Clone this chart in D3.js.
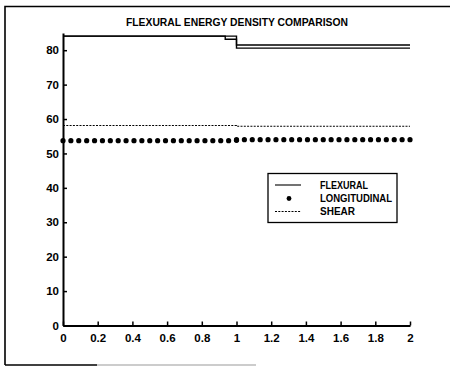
<!DOCTYPE html>
<html>
<head>
<meta charset="utf-8">
<script src="https://cdn.jsdelivr.net/npm/d3@7"></script>
<style>
  html, body { margin: 0; padding: 0; background: #fff; }
  svg { display: block; }
  text { font-family: "Liberation Sans", Arial, Helvetica, sans-serif; font-weight: bold; fill: #000; }
</style>
</head>
<body>
<svg id="chart" width="450" height="367"></svg>
<script>
// Node positions along the beam (22 elements per unit length)
const xNodesLeft = [0, 0.0455, 0.0909, 0.1364, 0.1818, 0.2273, 0.2727, 0.3182, 0.3636, 0.4091, 0.4545,
  0.5, 0.5455, 0.5909, 0.6364, 0.6818, 0.7273, 0.7727, 0.8182, 0.8636, 0.9091, 0.9545, 1.0];
const xNodesRight = [1.0, 1.0455, 1.0909, 1.1364, 1.1818, 1.2273, 1.2727, 1.3182, 1.3636, 1.4091, 1.4545,
  1.5, 1.5455, 1.5909, 1.6364, 1.6818, 1.7273, 1.7727, 1.8182, 1.8636, 1.9091, 1.9545, 2.0];

// Longitudinal energy density at each node
const longitudinalLeft = [53.7, 53.7, 53.7, 53.7, 53.7, 53.7, 53.7, 53.7, 53.7, 53.7, 53.7, 53.7,
  53.7, 53.7, 53.7, 53.7, 53.7, 53.7, 53.7, 53.7, 53.7, 53.7, 53.8];
const longitudinalRight = [54.0, 54.0, 54.0, 54.0, 54.0, 54.0, 54.0, 54.0, 54.0, 54.0, 54.0, 54.0,
  54.0, 54.0, 54.0, 54.0, 54.0, 54.0, 54.0, 54.0, 54.0, 54.0, 54.0];

// Flexural energy density (two piecewise-constant curves)
const flexuralAX = [0, 1, 1, 2];
const flexuralAY = [84.1, 84.1, 81.5, 81.5];
const flexuralBX = [0, 0.935, 0.935, 1, 1, 2];
const flexuralBY = [84.1, 84.1, 83.2, 83.2, 80.6, 80.6];

// Shear energy density
const shearX = [0, 1, 1, 2];
const shearY = [58.1, 58.1, 57.9, 57.9];

const xTicks = [0, 0.2, 0.4, 0.6, 0.8, 1, 1.2, 1.4, 1.6, 1.8, 2];
const yTicks = [0, 10, 20, 30, 40, 50, 60, 70, 80];
const xTickLabels = ["0", "0.2", "0.4", "0.6", "0.8", "1", "1.2", "1.4", "1.6", "1.8", "2"];

const titleText = "FLEXURAL ENERGY DENSITY COMPARISON";
const legendLabels = ["FLEXURAL", "LONGITUDINAL", "SHEAR"];

const svg = d3.select("#chart");

// Outer frame
const frame = svg.append("g").attr("fill", "none");
frame.append("path").attr("d", "M5,365 L5,6.5 L450,6.5").attr("stroke", "#000").attr("stroke-width", 1.6);
frame.append("line").attr("x1", 5).attr("x2", 97).attr("y1", 365).attr("y2", 365)
  .attr("stroke", "#000").attr("stroke-width", 1.6);
frame.append("line").attr("x1", 97).attr("x2", 256).attr("y1", 365).attr("y2", 365)
  .attr("stroke", "#999").attr("stroke-width", 1.2);

const x = d3.scaleLinear().domain([0, 2]).range([63, 410]);
const y = d3.scaleLinear().domain([0, 85]).range([325.5, 33]);

// Axes with inward ticks
const xAxis = d3.axisBottom(x).tickValues(xTicks).tickSizeInner(-4).tickSizeOuter(0)
  .tickFormat((d, i) => xTickLabels[i]).tickPadding(6);
const yAxis = d3.axisLeft(y).tickValues(yTicks).tickSizeInner(-4).tickSizeOuter(0)
  .tickFormat(d3.format("d")).tickPadding(4);

const gx = svg.append("g").attr("transform", `translate(0,${y(0)})`).call(xAxis);
const gy = svg.append("g").attr("transform", `translate(${x(0)},0)`).call(yAxis);
[gx, gy].forEach(g => {
  g.select(".domain").attr("stroke", "#000").attr("stroke-width", 2);
  g.selectAll(".tick line").attr("stroke", "#000").attr("stroke-width", 1.5);
  g.selectAll(".tick text").style("font-size", "11.5px").style("font-weight", "bold")
    .style("font-family", "'Liberation Sans', Arial, sans-serif").attr("fill", "#000");
});
gx.selectAll(".tick text").attr("dy", "0.9em");

// Title
svg.append("text").attr("x", 237).attr("y", 25.5).attr("text-anchor", "middle")
  .style("font-size", "10px").attr("textLength", 222).attr("lengthAdjust", "spacingAndGlyphs")
  .text(titleText);

const line = d3.line().x(d => x(d[0])).y(d => y(d[1]));

// Flexural curves
[[flexuralAX, flexuralAY], [flexuralBX, flexuralBY]].forEach(([xs, ys]) => {
  svg.append("path").datum(xs.map((v, i) => [v, ys[i]]))
    .attr("d", line).attr("fill", "none").attr("stroke", "#000").attr("stroke-width", 1.4);
});

// Shear curve
svg.append("path").datum(shearX.map((v, i) => [v, shearY[i]]))
  .attr("d", line).attr("fill", "none").attr("stroke", "#000").attr("stroke-width", 1.1)
  .attr("stroke-dasharray", "2,1.3");

// Longitudinal points
const pts = xNodesLeft.map((v, i) => [v, longitudinalLeft[i]])
  .concat(xNodesRight.map((v, i) => [v, longitudinalRight[i]]));
svg.append("g").selectAll("circle").data(pts).join("circle")
  .attr("cx", d => x(d[0])).attr("cy", d => y(d[1])).attr("r", 2.6).attr("fill", "#000");

// Legend
const lg = svg.append("g");
lg.append("rect").attr("x", 268).attr("y", 173.5).attr("width", 129).attr("height", 49)
  .attr("fill", "#fff").attr("stroke", "#000").attr("stroke-width", 1.3);
const rowY = [185, 198.5, 211.5];
const textW = [48, 72, 35];
lg.append("line").attr("x1", 275).attr("x2", 301).attr("y1", rowY[0]).attr("y2", rowY[0])
  .attr("stroke", "#000").attr("stroke-width", 1.1);
lg.append("circle").attr("cx", 289).attr("cy", rowY[1]).attr("r", 2.4).attr("fill", "#000");
lg.append("line").attr("x1", 275).attr("x2", 301).attr("y1", rowY[2]).attr("y2", rowY[2])
  .attr("stroke", "#000").attr("stroke-width", 1.1).attr("stroke-dasharray", "2,1.3");
legendLabels.forEach((t, i) => {
  lg.append("text").attr("x", 320).attr("y", rowY[i] + 3.8)
    .style("font-size", "10.5px").attr("textLength", textW[i]).attr("lengthAdjust", "spacingAndGlyphs")
    .text(t);
});
</script>
</body>
</html>
